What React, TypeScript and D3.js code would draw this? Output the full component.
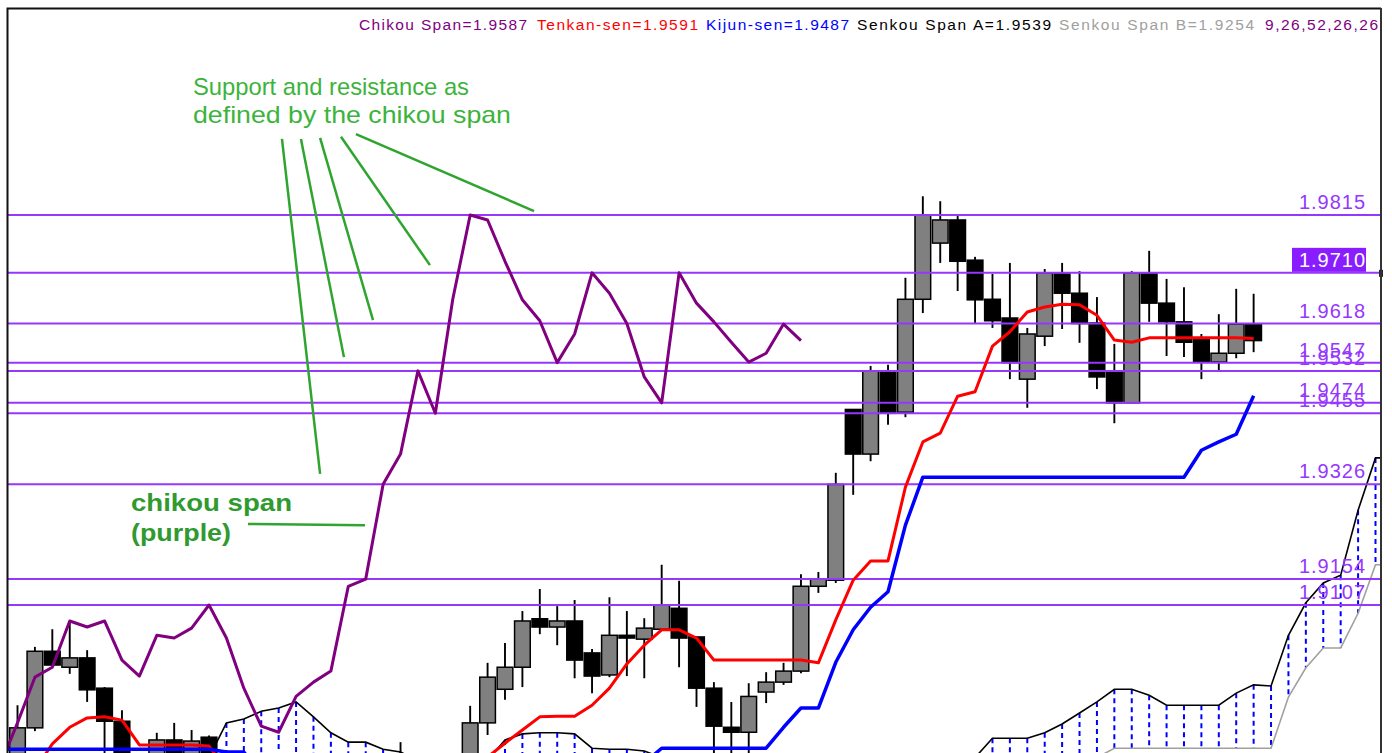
import { useEffect } from 'react'
import * as d3 from 'd3'

// bar 0 sits just left of the frame, bars 1..72 are the visible candles
const opens = [
  1.8790, 1.8807, 1.8884, 1.9023, 1.8994, 1.9011, 1.8956, 1.8896, 1.8805, 1.8800,
  1.8862, 1.8830, 1.8867, 1.8810, 1.8780, 1.8800, 1.8785, 1.8765, 1.8790, 1.8775,
  1.8795, 1.8805, 1.8790, 1.8800, 1.8820, 1.8800, 1.8795, 1.8805, 1.8893, 1.8954,
  1.8994, 1.9082, 1.9067, 1.9078, 1.9020, 1.8980, 1.9052, 1.9045, 1.9063, 1.9101,
  1.9049, 1.8956, 1.8885, 1.8876, 1.8949, 1.8967, 1.8987, 1.9141, 1.9152, 1.9462,
  1.9381, 1.9532, 1.9457, 1.9662, 1.9764, 1.9806, 1.9733, 1.9662, 1.9628, 1.9517,
  1.9595, 1.9708, 1.9673, 1.9619, 1.9530, 1.9474, 1.9708, 1.9655, 1.9621, 1.9590,
  1.9548, 1.9564, 1.9617,
]
const highs = [
  1.8810, 1.8925, 1.9031, 1.9063, 1.9078, 1.9025, 1.8958, 1.8916, 1.8825, 1.8875,
  1.8893, 1.8880, 1.8870, 1.8830, 1.8815, 1.8825, 1.8810, 1.8800, 1.8820, 1.8805,
  1.8825, 1.8830, 1.8815, 1.8858, 1.8835, 1.8830, 1.8830, 1.8924, 1.9002, 1.9038,
  1.9096, 1.9136, 1.9105, 1.9116, 1.9027, 1.9121, 1.9096, 1.9083, 1.9180, 1.9151,
  1.9049, 1.8967, 1.8931, 1.8965, 1.8985, 1.9002, 1.9163, 1.9167, 1.9347, 1.9462,
  1.9541, 1.9543, 1.9701, 1.9849, 1.9840, 1.9815, 1.9739, 1.9708, 1.9728, 1.9610,
  1.9717, 1.9728, 1.9713, 1.9666, 1.9581, 1.9713, 1.9750, 1.9699, 1.9684, 1.9599,
  1.9635, 1.9681, 1.9672,
]
const lows = [
  1.8770, 1.8790, 1.8878, 1.8996, 1.8982, 1.8931, 1.8832, 1.8790, 1.8770, 1.8790,
  1.8800, 1.8805, 1.8795, 1.8770, 1.8760, 1.8775, 1.8750, 1.8745, 1.8770, 1.8755,
  1.8780, 1.8785, 1.8770, 1.8785, 1.8790, 1.8780, 1.8780, 1.8790, 1.8871, 1.8935,
  1.8958, 1.9054, 1.9034, 1.8974, 1.8947, 1.8976, 1.8978, 1.8974, 1.9062, 1.8994,
  1.8922, 1.8825, 1.8825, 1.8825, 1.8929, 1.8962, 1.8983, 1.9129, 1.9147, 1.9307,
  1.9368, 1.9434, 1.9448, 1.9637, 1.9728, 1.9677, 1.9619, 1.9610, 1.9517, 1.9465,
  1.9577, 1.9608, 1.9583, 1.9499, 1.9437, 1.9474, 1.9621, 1.9559, 1.9557, 1.9517,
  1.9532, 1.9555, 1.9566,
]
const closes = [
  1.8800, 1.8884, 1.9023, 1.8998, 1.9011, 1.8953, 1.8896, 1.8807, 1.8790, 1.8862,
  1.8830, 1.8860, 1.8810, 1.8780, 1.8800, 1.8785, 1.8765, 1.8790, 1.8775, 1.8795,
  1.8805, 1.8790, 1.8800, 1.8820, 1.8800, 1.8795, 1.8815, 1.8893, 1.8976, 1.8994,
  1.9078, 1.9067, 1.9078, 1.9007, 1.8978, 1.9052, 1.9047, 1.9065, 1.9107, 1.9047,
  1.8956, 1.8887, 1.8876, 1.8941, 1.8967, 1.8987, 1.9141, 1.9154, 1.9326, 1.9381,
  1.9532, 1.9455, 1.9662, 1.9815, 1.9806, 1.9731, 1.9661, 1.9623, 1.9547, 1.9599,
  1.9710, 1.9673, 1.9618, 1.9521, 1.9474, 1.9710, 1.9655, 1.9621, 1.9584, 1.9548,
  1.9564, 1.9617, 1.9587,
]

const tenkan = [
  1.8780, 1.8789, 1.8807, 1.8855, 1.8885, 1.8902, 1.8904, 1.8898, 1.8853, 1.8853,
  1.8853, 1.8853, 1.8851, 1.8807, 1.8795, 1.8790, 1.8790, 1.8785, 1.8780, 1.8780,
  1.8780, 1.8785, 1.8790, 1.8790, 1.8795, 1.8800, 1.8805, 1.8816, 1.8831, 1.8856,
  1.8880, 1.8904, 1.8905, 1.8905, 1.8925, 1.8956, 1.9000, 1.9034, 1.9062, 1.9062,
  1.9047, 1.9007, 1.9007, 1.9007, 1.9007, 1.9007, 1.9007, 1.9002, 1.9080, 1.9152,
  1.9187, 1.9187, 1.9321, 1.9403, 1.9419, 1.9486, 1.9494, 1.9577, 1.9603, 1.9639,
  1.9648, 1.9653, 1.9652, 1.9633, 1.9588, 1.9584, 1.9592, 1.9592, 1.9592, 1.9592,
  1.9592, 1.9592, 1.9591,
]
const kijun = [
  1.8845, 1.8845, 1.8845, 1.8845, 1.8845, 1.8845, 1.8845, 1.8845, 1.8845, 1.8845,
  1.8845, 1.8845, 1.8845, 1.8840, 1.8840, 1.8800, 1.8800, 1.8800, 1.8800, 1.8800,
  1.8800, 1.8800, 1.8800, 1.8800, 1.8800, 1.8800, 1.8800, 1.8800, 1.8800, 1.8800,
  1.8800, 1.8800, 1.8800, 1.8800, 1.8800, 1.8800, 1.8800, 1.8820, 1.8847, 1.8847,
  1.8847, 1.8847, 1.8847, 1.8847, 1.8847, 1.8885, 1.8920, 1.8920, 1.9003, 1.9062,
  1.9103, 1.9131, 1.9252, 1.9339, 1.9339, 1.9339, 1.9339, 1.9339, 1.9339, 1.9339,
  1.9339, 1.9339, 1.9339, 1.9339, 1.9339, 1.9339, 1.9339, 1.9339, 1.9339, 1.9388,
  1.9403, 1.9417, 1.9487,
]
// cloud runs 8 bars past the last candle
const senkouA = [
  1.8800, 1.8800, 1.8800, 1.8800, 1.8800, 1.8800, 1.8800, 1.8800, 1.8800, 1.8800,
  1.8800, 1.8800, 1.8830, 1.8893, 1.8900, 1.8914, 1.8920, 1.8931, 1.8904, 1.8875,
  1.8858, 1.8858, 1.8845, 1.8840, 1.8825, 1.8815, 1.8815, 1.8810, 1.8825, 1.8862,
  1.8873, 1.8875, 1.8875, 1.8873, 1.8847, 1.8845, 1.8845, 1.8842, 1.8830, 1.8820,
  1.8820, 1.8820, 1.8820, 1.8820, 1.8820, 1.8820, 1.8820, 1.8820, 1.8820, 1.8820,
  1.8820, 1.8820, 1.8820, 1.8820, 1.8820, 1.8820, 1.8830, 1.8865, 1.8865, 1.8865,
  1.8875, 1.8891, 1.8911, 1.8931, 1.8954, 1.8954, 1.8943, 1.8925, 1.8925, 1.8925,
  1.8925, 1.8947, 1.8962, 1.8960, 1.9052, 1.9111, 1.9147, 1.9161, 1.9279, 1.9374,
  1.9374,
]
const senkouB = [
  1.8790, 1.8790, 1.8790, 1.8790, 1.8790, 1.8790, 1.8790, 1.8790, 1.8790, 1.8790,
  1.8790, 1.8790, 1.8790, 1.8790, 1.8790, 1.8790, 1.8790, 1.8790, 1.8790, 1.8790,
  1.8790, 1.8790, 1.8790, 1.8790, 1.8790, 1.8790, 1.8790, 1.8790, 1.8790, 1.8790,
  1.8790, 1.8790, 1.8790, 1.8790, 1.8790, 1.8790, 1.8790, 1.8790, 1.8790, 1.8790,
  1.8790, 1.8790, 1.8790, 1.8790, 1.8790, 1.8790, 1.8790, 1.8790, 1.8790, 1.8790,
  1.8790, 1.8790, 1.8790, 1.8790, 1.8790, 1.8790, 1.8790, 1.8790, 1.8790, 1.8790,
  1.8790, 1.8790, 1.8790, 1.8830, 1.8847, 1.8847, 1.8847, 1.8847, 1.8847, 1.8847,
  1.8847, 1.8847, 1.8847, 1.8847, 1.8940, 1.8993, 1.9029, 1.9029, 1.9092, 1.9180,
  1.9180,
]

const levels = [1.9815, 1.971, 1.9618, 1.9547, 1.9532, 1.9474, 1.9455, 1.9326, 1.9154, 1.9107]
const highlightLevel = 1.971

const headerLabels = [
  'Chikou Span=1.9587',
  'Tenkan-sen=1.9591',
  'Kijun-sen=1.9487',
  'Senkou Span A=1.9539',
  'Senkou Span B=1.9254',
  '9,26,52,26,26',
]
const headerColors = ['#800080', '#ff0000', '#0000ff', '#000000', '#a0a0a0', '#800080']
const headerX = [359, 537, 706, 857, 1059, 1265]
const headerW = [168, 161, 143, 194, 195, 113]

const noteLines = ['Support and resistance as', 'defined by the chikou span']
const noteW = [276, 318]
const tagLines = ['chikou span', '(purple)']
const tagW = [161, 100]
// pointer strokes in [bar, price] pairs
const pointers: [number, number, number, number][] = [
  [16.19, 1.9953, 18.38, 1.9345],
  [17.28, 1.9953, 19.75, 1.9557],
  [18.38, 1.9955, 21.42, 1.9624],
  [19.58, 1.9957, 24.69, 1.9724],
  [20.44, 1.9962, 30.67, 1.9822],
  [14.24, 1.9254, 20.96, 1.9252],
]

const FONT = "'Liberation Sans', Arial, Helvetica, sans-serif"

export default function App() {
  useEffect(() => {
    document.body.style.margin = '0'
    document.body.style.overflow = 'hidden'
  }, [])

  const x = d3.scaleLinear().domain([1, 79]).range([17.5, 1375.5])
  const y = d3.scaleLinear().domain([1.9815, 1.9107]).range([215, 605])
  const step = x(2) - x(1)
  const bodyW = step * 0.9

  const seriesLine = d3
    .line<number>()
    .x((_, i) => x(i))
    .y((d) => y(d))

  const chikou: [number, number][] = closes.slice(26).map((c, i) => [i, c])
  const chikouLine = d3
    .line<[number, number]>()
    .x((d) => x(d[0]))
    .y((d) => y(d[1]))

  const levelColor = '#9636ff'
  const green = '#2fa52f'

  return (
    <svg
      width={1392}
      height={753}
      style={{ position: 'absolute', left: 0, top: 0, background: '#fff' }}
      fontFamily={FONT}
    >
      <defs>
        <clipPath id="plot">
          <rect x={8} y={9} width={1372} height={760} />
        </clipPath>
      </defs>
      <rect x={0} y={0} width={1392} height={753} fill="#fff" />

      <g clipPath="url(#plot)">
        {/* cloud hatching */}
        {senkouA.map((a, i) => {
          const ya = y(a)
          const yb = y(senkouB[i])
          if (Math.abs(ya - yb) < 1) return null
          return (
            <line
              key={`h${i}`}
              x1={x(i)}
              x2={x(i)}
              y1={ya}
              y2={yb}
              stroke={a >= senkouB[i] ? '#0000ff' : '#ff3030'}
              strokeWidth={2}
              strokeDasharray="5 4"
            />
          )
        })}
        <path d={seriesLine(senkouB) ?? ''} fill="none" stroke="#a0a0a0" strokeWidth={1.6} />
        <path d={seriesLine(senkouA) ?? ''} fill="none" stroke="#000" strokeWidth={1.6} />

        {/* candles */}
        {opens.map((o, i) => {
          const c = closes[i]
          const cx = x(i)
          const top = y(Math.max(o, c))
          const bot = y(Math.min(o, c))
          return (
            <g key={`c${i}`}>
              <line x1={cx} x2={cx} y1={y(highs[i])} y2={y(lows[i])} stroke="#000" strokeWidth={1.9} />
              <rect
                x={cx - bodyW / 2}
                y={top}
                width={bodyW}
                height={Math.max(bot - top, 1.5)}
                fill={c >= o ? '#808080' : '#000'}
                stroke="#000"
                strokeWidth={1.5}
              />
            </g>
          )
        })}

        {/* support / resistance levels */}
        {levels.map((lv) => (
          <line key={`l${lv}`} x1={8} x2={1381} y1={y(lv)} y2={y(lv)} stroke={levelColor} strokeWidth={2} />
        ))}

        <path d={seriesLine(tenkan) ?? ''} fill="none" stroke="#ff0000" strokeWidth={3} strokeLinejoin="round" />
        <path d={seriesLine(kijun) ?? ''} fill="none" stroke="#0000ff" strokeWidth={3.5} strokeLinejoin="round" />
        <path d={chikouLine(chikou) ?? ''} fill="none" stroke="#800080" strokeWidth={3} strokeLinejoin="round" />
      </g>

      {/* level labels (the close pairs overlap in the source chart too) */}
      {levels.map((lv) => {
        const ly = y(lv)
        const hi = lv === highlightLevel
        return (
          <g key={`t${lv}`}>
            {hi && <rect x={1292} y={ly - 25} width={74} height={24} fill="#8a1dff" />}
            <text
              x={1365}
              y={ly - 6}
              textAnchor="end"
              fontSize={20}
              fill={hi ? '#fff' : levelColor}
              textLength={66}
              lengthAdjust="spacing"
            >
              {lv.toFixed(4)}
            </text>
          </g>
        )
      })}
      <rect x={1379} y={y(highlightLevel) - 3} width={4} height={7} fill="#223" />

      {/* indicator header */}
      {headerLabels.map((t, i) => (
        <text
          key={t}
          x={headerX[i]}
          y={30}
          fontSize={15.5}
          fill={headerColors[i]}
          textLength={headerW[i]}
          lengthAdjust="spacing"
        >
          {t}
        </text>
      ))}

      {/* annotation */}
      {noteLines.map((t, i) => (
        <text
          key={t}
          x={x(11.08)}
          y={y(2.0033) + i * 28}
          fontSize={24}
          fill="#3cb43c"
          textLength={noteW[i]}
          lengthAdjust="spacingAndGlyphs"
        >
          {t}
        </text>
      ))}
      {tagLines.map((t, i) => (
        <text
          key={t}
          x={x(7.52)}
          y={y(1.9278) + i * 30}
          fontSize={24}
          fontWeight="bold"
          fill="#2f9a2f"
          textLength={tagW[i]}
          lengthAdjust="spacingAndGlyphs"
        >
          {t}
        </text>
      ))}
      {pointers.map((p, i) => (
        <line
          key={`p${i}`}
          x1={x(p[0])}
          y1={y(p[1])}
          x2={x(p[2])}
          y2={y(p[3])}
          stroke={green}
          strokeWidth={2.5}
        />
      ))}

      {/* frame */}
      <path d="M7.5,760 V8.5 H1381" fill="none" stroke="#111" strokeWidth={2} />
      <line x1={1381} x2={1381} y1={8} y2={760} stroke="#333" strokeWidth={2} />
    </svg>
  )
}
